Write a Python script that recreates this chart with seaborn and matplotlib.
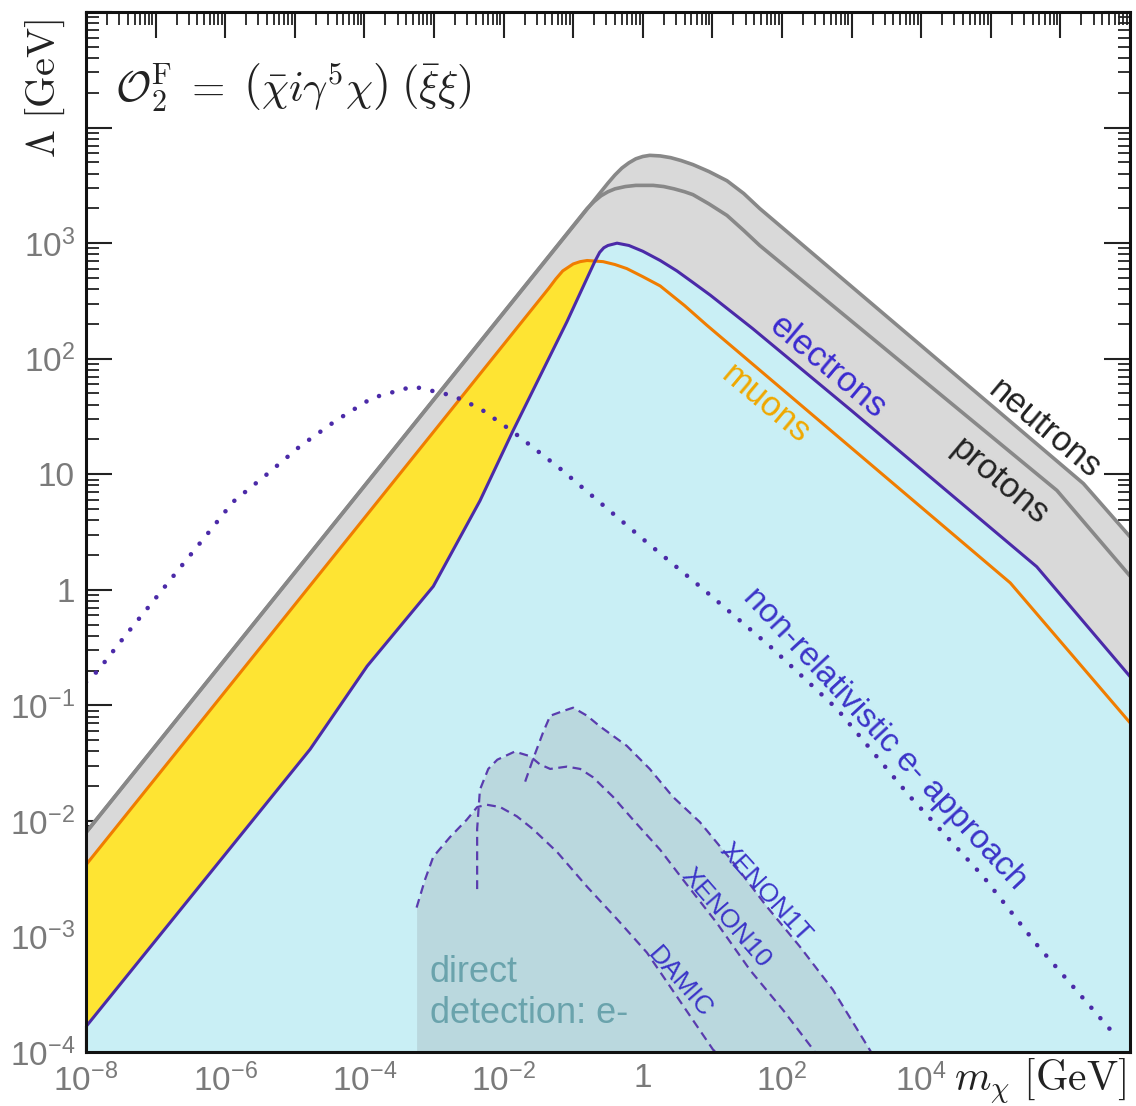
import numpy as np
import matplotlib
matplotlib.use("Agg")
import matplotlib.pyplot as plt
import seaborn as sns

# curves, in log10(m_chi / GeV), log10(Lambda / GeV)
neutron_lx = [-8, -0.5, -0.4, -0.3, -0.2, -0.1, 0.0, 0.1, 0.25, 0.4, 0.55, 0.72, 0.95,
              1.21, 1.45, 1.68, 6.33, 7.0]
neutron_ly = [-2.1, 3.52, 3.59, 3.65, 3.695, 3.73, 3.75, 3.76, 3.755, 3.74, 3.715, 3.68, 3.62,
              3.54, 3.43, 3.30, 0.92, 0.46]

proton_lx = [-8, -0.8, -0.7, -0.6, -0.5, -0.4, -0.25, -0.1, 0.15, 0.3, 0.45, 0.6, 0.72,
             0.95, 1.21, 1.45, 1.68, 5.95, 7.0]
proton_ly = [-2.1, 3.30, 3.36, 3.41, 3.445, 3.47, 3.49, 3.50, 3.50, 3.49, 3.47, 3.445, 3.42,
             3.34, 3.24, 3.11, 2.98, 0.86, 0.12]

electron_lx = [-8, -4.78, -3.96, -3.01, -2.34, -1.87, -1.09, -0.76, -0.69, -0.62, -0.56,
               -0.5, -0.37, -0.2, 0.0, 0.25, 0.49, 0.72, 0.97, 1.58, 3.0, 5.66, 7.0]
electron_ly = [-3.78, -1.38, -0.66, 0.03, 0.77, 1.37, 2.32, 2.75, 2.84, 2.92, 2.96,
               2.98, 3.0, 2.98, 2.93, 2.85, 2.76, 2.66, 2.55, 2.26, 1.55, 0.2, -0.75]

muon_lx = [-8, -1.35, -1.25, -1.15, -1.0, -0.9, -0.8, -0.57, -0.4, -0.23, 0.0, 0.25, 0.6,
           0.92, 5.28, 7.0]
muon_ly = [-2.38, 2.61, 2.69, 2.76, 2.82, 2.84, 2.85, 2.84, 2.815, 2.78, 2.71, 2.63, 2.46,
           2.29, 0.06, -1.15]

nonrel_lx = [-8, -7.83, -7.44, -7.05, -6.65, -6.26, -5.89, -5.40, -4.93, -4.42, -3.89,
             -3.30, -2.73, -2.34, -1.87, -1.19, 0.06, 0.86, 1.83, 2.79, 3.84, 4.89, 5.66, 6.78]
nonrel_ly = [-0.80, -0.70, -0.40, -0.11, 0.19, 0.48, 0.76, 1.0, 1.24, 1.46, 1.66,
             1.76, 1.68, 1.57, 1.37, 1.05, 0.41, 0.01, -0.49, -1.03, -1.79, -2.48, -3.07, -3.85]

damic_lx = [-3.25, -3.13, -3.01, -2.77, -2.53, -2.38, -2.24, -2.05, -1.81, -1.58, -1.23,
            -0.80, -0.37, 0.06, 0.49, 1.01, 1.05]
damic_ly = [-2.75, -2.51, -2.31, -2.14, -1.99, -1.88, -1.86, -1.88, -1.96, -2.07, -2.27,
            -2.57, -2.85, -3.14, -3.52, -3.98, -4.0]

xenon10_lx = [-2.38, -2.38, -2.34, -2.22, -2.09, -1.84, -1.62, -1.48, -1.33, -1.09, -0.90,
              -0.72, -0.43, -0.14, 0.25, 0.58, 1.06, 1.54, 2.02, 2.45, 2.47]
xenon10_ly = [-2.59, -2.07, -1.73, -1.55, -1.47, -1.40, -1.44, -1.51, -1.55, -1.53, -1.55,
              -1.62, -1.79, -1.99, -2.25, -2.51, -2.88, -3.29, -3.64, -3.98, -4.0]

xenon1t_lx = [-1.69, -1.58, -1.43, -1.33, -1.15, -1.0, -0.80, -0.62, -0.23, 0.10, 0.43,
              0.82, 1.30, 1.78, 2.26, 2.73, 3.26, 3.28]
xenon1t_ly = [-1.66, -1.47, -1.23, -1.09, -1.05, -1.02, -1.09, -1.18, -1.35, -1.55, -1.79,
              -2.01, -2.36, -2.74, -3.09, -3.46, -3.98, -4.0]

x_tick_exp = list(range(-8, 8))
x_tick_labels = [r"$\mathregular{10^{-8}}$", "", r"$\mathregular{10^{-6}}$", "",
                 r"$\mathregular{10^{-4}}$", "", r"$\mathregular{10^{-2}}$", "",
                 "1", "", r"$\mathregular{10^{2}}$", "", r"$\mathregular{10^{4}}$", "", "", ""]
y_tick_exp = list(range(-4, 6))
y_tick_labels = [r"$\mathregular{10^{-4}}$", r"$\mathregular{10^{-3}}$",
                 r"$\mathregular{10^{-2}}$", r"$\mathregular{10^{-1}}$", "1", "10",
                 r"$\mathregular{10^{2}}$", r"$\mathregular{10^{3}}$", "", ""]

sns.set_style("ticks")
plt.rcParams["font.family"] = ["Liberation Sans", "DejaVu Sans"]
plt.rcParams["mathtext.fontset"] = "cm"

c_gray_line = "#888888"
c_gray_fill = "#d9d9d9"
c_yellow = "#fee433"
c_blue_fill = "#c9eff5"
c_dd_fill = "#bad8de"
c_orange = "#f07d00"
c_violet = "#4b2aa8"
c_dash = "#5a3cae"
c_text_blue = "#3b34c8"

fig = plt.figure(figsize=(11.36, 11.06), dpi=100)
ax = fig.add_axes([0.0757, 0.0488, 0.919, 0.9403])
ax.set_xscale("log")
ax.set_yscale("log")
bottom = 1e-4


def p(v):
    return 10 ** np.array(v, dtype=float)


# filled regions, back to front
ax.fill_between(p(neutron_lx), p(neutron_ly), bottom, color=c_gray_fill, lw=0)
ax.fill_between(p(muon_lx), p(muon_ly), bottom, color=c_yellow, lw=0)
ax.fill_between(p(electron_lx), p(electron_ly), bottom, color=c_blue_fill, lw=0)
for lx, ly in [(damic_lx, damic_ly), (xenon10_lx, xenon10_ly), (xenon1t_lx, xenon1t_ly)]:
    ax.fill_between(p(lx), p(ly), bottom, color=c_dd_fill, lw=0)

# lines
sns.lineplot(x=p(neutron_lx), y=p(neutron_ly), ax=ax, color=c_gray_line, lw=2.6,
             sort=False, estimator=None)
sns.lineplot(x=p(proton_lx), y=p(proton_ly), ax=ax, color=c_gray_line, lw=2.6,
             sort=False, estimator=None)
sns.lineplot(x=p(muon_lx), y=p(muon_ly), ax=ax, color=c_orange, lw=2.2,
             sort=False, estimator=None)
sns.lineplot(x=p(electron_lx), y=p(electron_ly), ax=ax, color=c_violet, lw=2.2,
             sort=False, estimator=None)
sns.lineplot(x=p(nonrel_lx), y=p(nonrel_ly), ax=ax, color=c_violet, lw=3.3,
             linestyle=(0, (0.01, 3.0)), dash_capstyle="round",
             sort=False, estimator=None)
for lx, ly in [(damic_lx, damic_ly), (xenon10_lx, xenon10_ly), (xenon1t_lx, xenon1t_ly)]:
    sns.lineplot(x=p(lx), y=p(ly), ax=ax, color=c_dash, lw=1.6,
                 linestyle=(0, (4, 2.5)), sort=False, estimator=None)

ax.set_xlim(1e-8, 1e7)
ax.set_ylim(1e-4, 1e5)

# ticks
ax.set_xticks([10.0 ** e for e in x_tick_exp], x_tick_labels)
ax.set_yticks([10.0 ** e for e in y_tick_exp], y_tick_labels)
ax.xaxis.set_minor_locator(matplotlib.ticker.LogLocator(base=10, subs=np.arange(2, 10), numticks=40))
ax.yaxis.set_minor_locator(matplotlib.ticker.LogLocator(base=10, subs=np.arange(2, 10), numticks=40))
ax.xaxis.set_minor_formatter(matplotlib.ticker.NullFormatter())
ax.yaxis.set_minor_formatter(matplotlib.ticker.NullFormatter())
ax.tick_params(which="major", direction="in", length=19, width=1.5, top=True, right=True,
               labelsize=24, labelcolor="#7a7a7a", color="#222222")
ax.tick_params(axis="x", which="major", pad=8)
ax.tick_params(axis="y", which="major", pad=8)
ax.tick_params(which="minor", direction="in", length=9, width=1.3, top=True, right=True,
               color="#222222")
for s in ax.spines.values():
    s.set_linewidth(2.2)
    s.set_color("#111111")
    s.set_zorder(5)

# labels
ax.text(0.028, 0.927,
        r"$\mathcal{O}_2^{\rm F}\;=\;\left(\bar{\chi} i\gamma^5\chi\right)\;\left(\bar{\xi}\xi\right)$",
        transform=ax.transAxes, fontsize=31, ha="left", va="center", color="#222222")
fig.text(0.04, 0.92, r"$\Lambda\ [\mathrm{GeV}]$", rotation=90, fontsize=29,
         ha="center", va="center", color="#222222")
fig.text(0.84, 0.022, r"$m_\chi\ [\mathrm{GeV}]$", fontsize=30,
         ha="left", va="center", color="#222222")

kw = dict(ha="center", va="center", rotation_mode="anchor")
ax.text(10 ** 2.66, 10 ** 1.93, "electrons", color="#3a2ad0", fontsize=25, rotation=-40, **kw)
ax.text(10 ** 1.76, 10 ** 1.61, "muons", color="#f0a800", fontsize=25, rotation=-40, **kw)
ax.text(10 ** 5.78, 10 ** 1.39, "neutrons", color="#222222", fontsize=25, rotation=-40, **kw)
ax.text(10 ** 5.13, 10 ** 0.94, "protons", color="#222222", fontsize=25, rotation=-40, **kw)
ax.text(10 ** 3.48, 10 ** -1.29, "non-relativistic e- approach", color=c_text_blue,
        fontsize=24, rotation=-47, **kw)
ax.text(10 ** 1.76, 10 ** -2.62, "XENON1T", color=c_text_blue, fontsize=19, rotation=-48, **kw)
ax.text(10 ** 1.20, 10 ** -2.84, "XENON10", color=c_text_blue, fontsize=19, rotation=-49, **kw)
ax.text(10 ** 0.53, 10 ** -3.40, "DAMIC", color=c_text_blue, fontsize=19, rotation=-49, **kw)
ax.text(10 ** -3.06, 10 ** -3.49, "direct\ndetection: e-", color="#6aa3ac", fontsize=26,
        ha="left", va="center", linespacing=1.2)

fig.savefig("out.png", dpi=100)
